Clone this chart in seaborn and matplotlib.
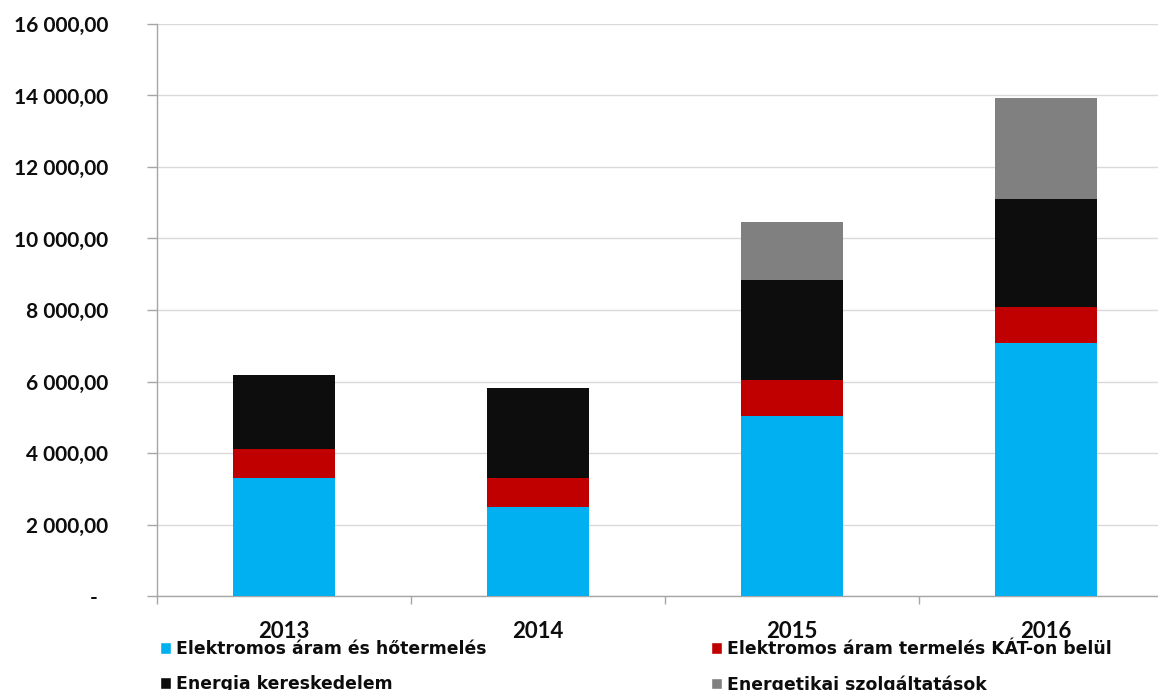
import matplotlib
matplotlib.use("Agg")
import matplotlib.pyplot as plt
import seaborn as sns
import numpy as np
import pandas as pd
from matplotlib.patches import Patch
from matplotlib.ticker import FuncFormatter, FixedLocator

years = ["2013", "2014", "2015", "2016"]
series_names = [
    "Elektromos áram és hőtermelés",
    "Elektromos áram termelés KÁT-on belül",
    "Energia kereskedelem",
    "Energetikai szolgáltatások",
]
aram_hotermeles = [3287, 2493, 5021, 7071]
aram_kat = [828, 811, 1024, 1016]
kereskedelem = [2080, 2509, 2808, 3012]
szolgaltatasok = [0, 0, 1602, 2845]
colors = ["#00B0F0", "#C00000", "#0D0D0D", "#808080"]

sns.set_theme(style="white")
plt.rcParams["font.family"] = ["DejaVu Sans"]

fig = plt.figure(figsize=(11.58, 6.9), dpi=100)
ax = fig.add_axes([157 / 1158, (690 - 596) / 690, 1 - 157 / 1158, (596 - 24) / 690])

stack = np.cumsum(np.array([aram_hotermeles, aram_kat, kereskedelem, szolgaltatasok]), axis=0)
# draw from top cumulative down so lower segments overlay
for i in range(3, -1, -1):
    df = pd.DataFrame({"year": years, "value": stack[i]})
    sns.barplot(data=df, x="year", y="value", color=colors[i], width=0.4,
                saturation=1, ax=ax, edgecolor="none", linewidth=0, zorder=3)

ax.set_ylim(0, 16000)
ax.set_xlim(-0.5, (1158 - 157) / 254 - 0.5)
ax.set_yticks(np.arange(0, 16001, 2000))
ax.yaxis.set_major_formatter(FuncFormatter(
    lambda v, p: "-  " if v == 0 else f"{v:,.2f}".replace(",", " ").replace(".", ",")))
ax.grid(axis="y", color="#d9d9d9", linewidth=1, zorder=0)
ax.set_axisbelow(True)
ax.set_xlabel("")
ax.set_ylabel("")

for s in ["top", "right"]:
    ax.spines[s].set_visible(False)
for s in ["left", "bottom"]:
    ax.spines[s].set_color("#a6a6a6")
    ax.spines[s].set_linewidth(1)

ax.tick_params(axis="y", which="major", left=True, length=7, color="#a6a6a6", width=1, pad=28)
ax.tick_params(axis="x", which="major", bottom=False, pad=12)
ax.xaxis.set_minor_locator(FixedLocator([-0.5, 0.5, 1.5, 2.5, 3.5]))
ax.tick_params(axis="x", which="minor", bottom=True, length=6, color="#a6a6a6", width=1)

for lab in ax.get_yticklabels():
    lab.set_fontfamily(["Lato", "DejaVu Sans"])
    lab.set_fontweight("bold")
    lab.set_fontsize(15)
    lab.set_color("#0D0D0D")
for lab in ax.get_xticklabels():
    lab.set_fontfamily(["Lato", "DejaVu Sans"])
    lab.set_fontweight("bold")
    lab.set_fontsize(16)
    lab.set_color("#0D0D0D")

handles = [Patch(facecolor=colors[0]), Patch(facecolor=colors[2]),
           Patch(facecolor=colors[1]), Patch(facecolor=colors[3])]
labels = [series_names[0], series_names[2], series_names[1], series_names[3]]
leg = fig.legend(handles, labels, ncol=2, loc="upper left",
                 bbox_to_anchor=(160 / 1158, 1 - 640 / 690),
                 frameon=False, handlelength=0.64, handleheight=0.64,
                 handletextpad=0.3, columnspacing=13.0, labelspacing=1.0,
                 borderaxespad=0, borderpad=0,
                 prop={"family": ["DejaVu Sans"], "weight": "bold", "size": 12.4})
for t in leg.get_texts():
    t.set_color("#0D0D0D")

fig.savefig("out.png", dpi=100)
